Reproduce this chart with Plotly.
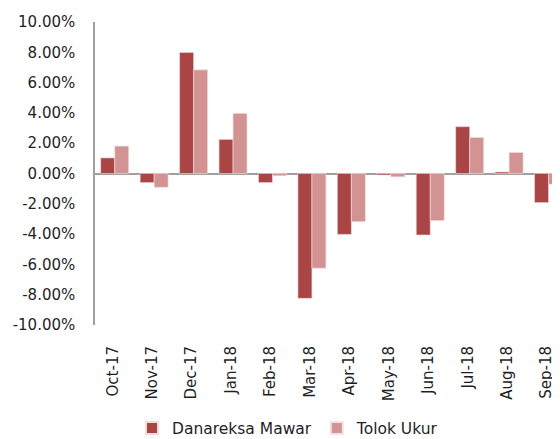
import plotly.graph_objects as go

categories = ["Oct-17", "Nov-17", "Dec-17", "Jan-18", "Feb-18", "Mar-18",
              "Apr-18", "May-18", "Jun-18", "Jul-18", "Aug-18", "Sep-18"]
danareksa_mawar = [1.03, -0.60, 7.99, 2.25, -0.60, -8.24, -4.02, -0.10, -4.06, 3.09, 0.10, -1.92]
tolok_ukur = [1.81, -0.91, 6.84, 3.97, -0.15, -6.25, -3.18, -0.22, -3.11, 2.38, 1.39, -0.71]
y_tick_vals = [10, 8, 6, 4, 2, 0, -2, -4, -6, -8, -10]
y_tick_text = ["10.00%", "8.00%", "6.00%", "4.00%", "2.00%", "0.00%",
               "-2.00%", "-4.00%", "-6.00%", "-8.00%", "-10.00%"]

FONT = "DejaVu Sans"
TXT = "#1f1f1f"
fig = go.Figure()
fig.add_trace(go.Bar(x=categories, y=danareksa_mawar, name="Danareksa Mawar",
                     marker=dict(color="#A94545", line=dict(color="#F0DADA", width=0.6))))
fig.add_trace(go.Bar(x=categories, y=tolok_ukur, name="Tolok Ukur",
                     marker=dict(color="#D39393", line=dict(color="#F4E2E2", width=0.6))))

fig.update_layout(
    width=552, height=447,
    margin=dict(l=87, r=0, t=14, b=130),
    paper_bgcolor="white", plot_bgcolor="white",
    barmode="group", bargap=0.29, bargroupgap=0,
    font=dict(family=FONT, size=15, color=TXT),
    showlegend=True,
    legend=dict(orientation="h", x=0.415, xanchor="center", y=-0.341, yanchor="middle",
                font=dict(family=FONT, size=15.5, color=TXT), itemwidth=30,
                itemsizing="constant", tracegroupgap=0),
    xaxis=dict(range=[-0.5, 11.29], showgrid=False, showline=False, zeroline=False,
               automargin=False, tickangle=-90, ticks="", ticklabelstandoff=17,
               ticklabelshift=-2,
               tickfont=dict(family=FONT, size=15, color=TXT)),
    yaxis=dict(range=[-10, 10], showgrid=False, zeroline=True, zerolinecolor="#A0A0A0",
               zerolinewidth=1.5, showline=True, linecolor="#A0A0A0", linewidth=1.5,
               automargin=False, tickvals=y_tick_vals, ticktext=y_tick_text, ticks="",
               ticklabelstandoff=15, tickfont=dict(family=FONT, size=15, color=TXT)),
)

fig.write_html("out.html")
